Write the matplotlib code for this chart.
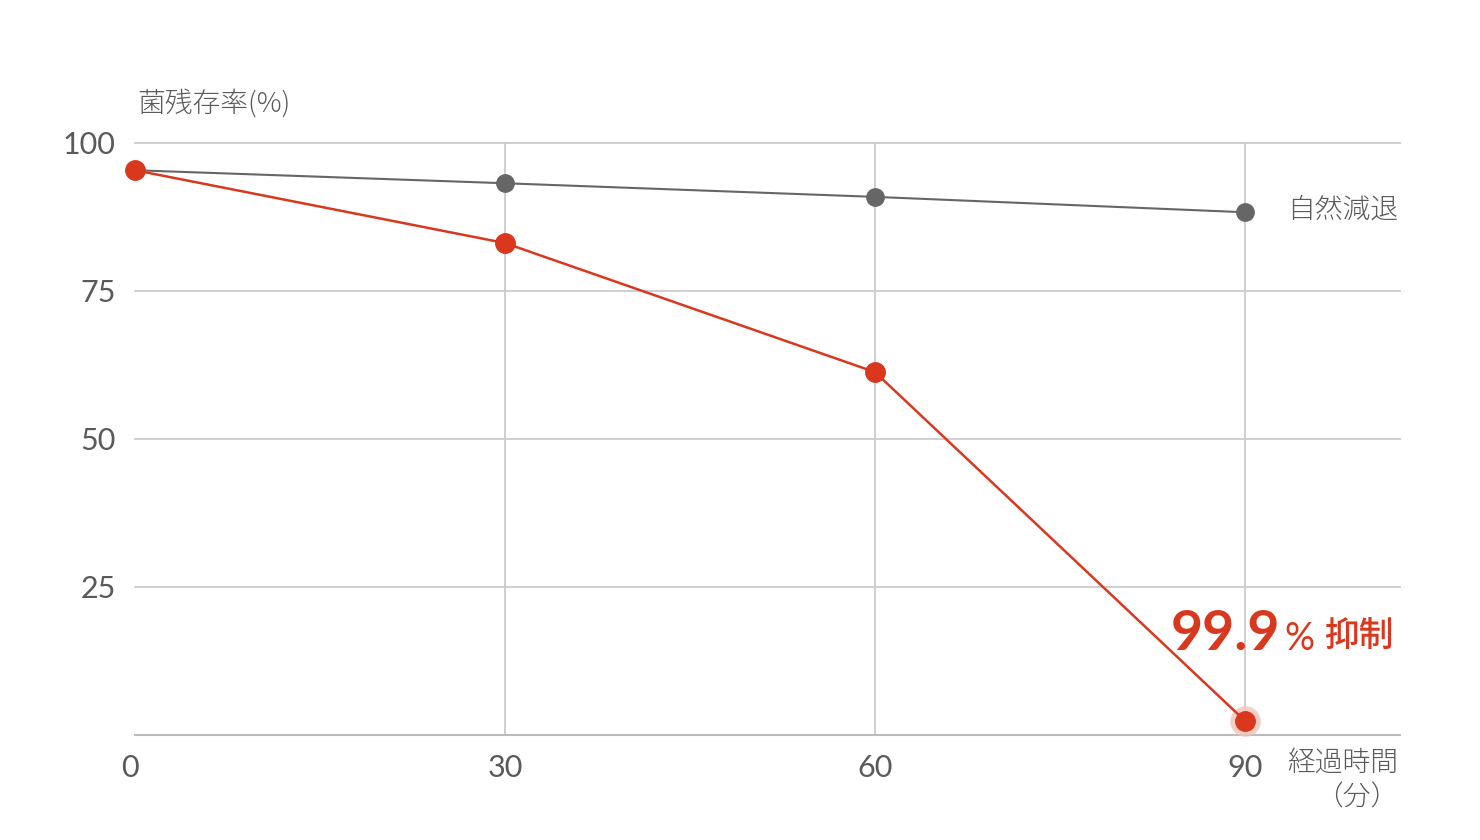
import matplotlib
matplotlib.use("Agg")
import matplotlib.pyplot as plt
import matplotlib.transforms as mtransforms

minutes = [0, 30, 60, 90]
natural = [95.4, 93.2, 90.9, 88.3]
treated = [95.4, 83.1, 61.3, 2.4]
yticks = [25, 50, 75, 100]
xticks = [0, 30, 60, 90]

RED = "#D9381E"
GRAY = "#666666"
GRID = "#CCCCCC"
TXT = "#5A5A5A"

num_font = ["Lato", "DejaVu Sans"]
jp_font = ["Noto Sans CJK JP", "DejaVu Sans"]

fig = plt.figure(figsize=(14.8, 8.4), dpi=100)
ax = fig.add_axes([135/1480, 105/840, (1400-135)/1480, (735-143)/840])
ax.set_xlim(0, (1400-135)/370*30)
ax.set_ylim(0, 100)
for s in ["top", "right", "left"]:
    ax.spines[s].set_visible(False)
ax.spines["bottom"].set_color("#BBBBBB")
ax.spines["bottom"].set_linewidth(1.5)

for y in yticks:
    ax.axhline(y, color=GRID, lw=1.3, zorder=0, clip_on=False)
for x in xticks[1:]:
    ax.plot([x, x], [0, 100], color=GRID, lw=1.3, zorder=0, clip_on=False)

ax.set_xticks(xticks)
ax.set_yticks(yticks)
ax.tick_params(length=0, pad=14, labelcolor=TXT, labelsize=22)
for lab in ax.get_xticklabels() + ax.get_yticklabels():
    lab.set_family(num_font)
xl0 = ax.get_xticklabels()[0]
xl0.set_transform(xl0.get_transform() +
                  mtransforms.ScaledTranslation(-5/100, 0, fig.dpi_scale_trans))

ax.plot(minutes, natural, color=GRAY, lw=1.5, marker="o", ms=12.5,
        mfc=GRAY, mec=GRAY, zorder=3, clip_on=False)
ax.plot(minutes[-1], treated[-1], marker="o", ms=22, mfc="#F3C2B8",
        mec="none", zorder=3.5, clip_on=False, alpha=0.8)
ax.plot(minutes, treated, color=RED, lw=1.8, marker="o", ms=14,
        mfc=RED, mec=RED, zorder=4, clip_on=False)

fig.text(137/1480, 1-103/840, "菌残存率(%)", family=jp_font, fontsize=20,
         fontweight="light", color=TXT, ha="left", va="center")
fig.text(1398/1480, 1-210/840, "自然減退", family=jp_font, fontsize=20,
         fontweight="light", color=TXT, ha="right", va="center")
fig.text(1398/1480, 1-763/840, "経過時間", family=jp_font, fontsize=20,
         fontweight="light", color=TXT, ha="right", va="center")
fig.text(1398/1480, 1-797/840, "（分）", family=jp_font, fontsize=20,
         fontweight="light", color=TXT, ha="right", va="center")

fig.text(1280/1480, 1-650/840, "99.9", family=num_font, fontsize=40,
         fontweight="bold", color=RED, ha="right", va="baseline")
fig.text(1284/1480, 1-650/840, "%", family=num_font, fontsize=27,
         color=RED, ha="left", va="baseline")
fig.text(1394/1480, 1-646/840, "抑制", family=jp_font, fontsize=25,
         fontweight="medium", color=RED, ha="right", va="baseline")

fig.savefig("out.png", dpi=100, facecolor="white")
